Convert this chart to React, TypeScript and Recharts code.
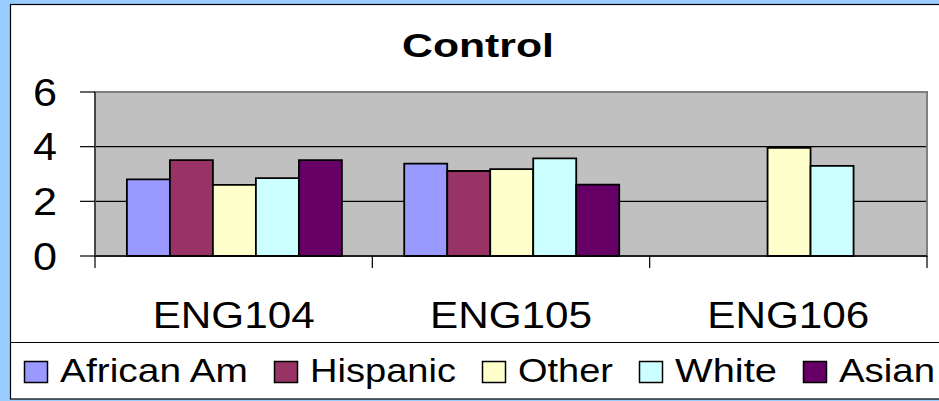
import React from 'react';
import { BarChart, Bar, XAxis, YAxis, CartesianGrid, Legend, ReferenceArea } from 'recharts';

// Mean scores per course, by group
const courses = ['ENG104', 'ENG105', 'ENG106'];
const africanAm = [2.8, 3.38, null];
const hispanic = [3.51, 3.11, null];
const other = [2.6, 3.18, 3.96];
const white = [2.85, 3.57, 3.3];
const asian = [3.51, 2.61, null];
const yTicks = [0, 2, 4, 6];
const seriesNames = ['African Am', 'Hispanic', 'Other', 'White', 'Asian'];
const seriesColors = ['#9999ff', '#993366', '#ffffcc', '#ccffff', '#660066'];
const chartTitle = 'Control';

const seriesValues = [africanAm, hispanic, other, white, asian];

const data = courses.map((course, i) => {
  const row: Record<string, string | number | null> = { course };
  seriesNames.forEach((name, s) => {
    row[name] = seriesValues[s][i];
  });
  return row;
});

const W = 939;
const H = 401;
const FONT = '"Liberation Sans", Arial, sans-serif';

// Text widths used to stretch labels horizontally
const legendTextWidth: Record<string, number> = {
  'African Am': 188,
  Hispanic: 146,
  Other: 95,
  White: 102,
  Asian: 96,
};

const XTick = (props: any) => {
  const { x, y, payload, width, visibleTicksCount, index } = props;
  const band = width / visibleTicksCount;
  const left = x - band / 2;
  const isLast = index === visibleTicksCount - 1;
  return (
    <g>
      <line x1={left} y1={y} x2={left} y2={y + 12} stroke="#000" strokeWidth={1.2} />
      {isLast && (
        <line x1={left + band} y1={y} x2={left + band} y2={y + 12} stroke="#000" strokeWidth={1.2} />
      )}
      <text
        x={x}
        y={y + 72}
        textAnchor="middle"
        fontFamily={FONT}
        fontSize={37}
        fill="#000"
        textLength={162}
        lengthAdjust="spacingAndGlyphs"
      >
        {payload.value}
      </text>
    </g>
  );
};

const YTick = (props: any) => {
  const { x, y, payload } = props;
  return (
    <text
      x={x}
      y={y + 13.5}
      textAnchor="end"
      fontFamily={FONT}
      fontSize={38}
      fill="#000"
      textLength={24}
      lengthAdjust="spacingAndGlyphs"
    >
      {payload.value}
    </text>
  );
};

const LegendContent = (props: any) => {
  const payload = [...(props.payload || [])].sort(
    (a: any, b: any) => seriesNames.indexOf(a.value) - seriesNames.indexOf(b.value)
  );
  let cx = 24;
  return (
    <svg width={W} height={58} style={{ display: 'block' }}>
      <line x1={10} y1={0.5} x2={W} y2={0.5} stroke="#000" strokeWidth={1} />
      {payload.map((item: any) => {
        const tw = legendTextWidth[item.value] ?? 100;
        const sx = cx;
        cx = sx + 36 + tw + 26;
        return (
          <g key={item.value}>
            <rect x={sx + 0.5} y={19.5} width={23} height={21} fill={item.color} stroke="#000" strokeWidth={1.5} />
            <text
              x={sx + 36}
              y={39.7}
              fontFamily={FONT}
              fontSize={33}
              fill="#000"
              textLength={tw}
              lengthAdjust="spacingAndGlyphs"
            >
              {item.value}
            </text>
          </g>
        );
      })}
    </svg>
  );
};

export default function App() {
  return (
    <div
      style={{
        position: 'absolute',
        left: 0,
        top: 0,
        width: W,
        height: H,
        background: '#99ccff',
        overflow: 'hidden',
      }}
    >
      <svg width={W} height={H} style={{ position: 'absolute', left: 0, top: 0 }}>
        <rect x={10.5} y={4.5} width={940} height={394.5} fill="#fff" stroke="#000" strokeWidth={1.2} />
        <text
          x={402}
          y={57}
          fontFamily={FONT}
          fontWeight="bold"
          fontSize={34}
          fill="#000"
          textLength={152}
          lengthAdjust="spacingAndGlyphs"
        >
          {chartTitle}
        </text>
      </svg>
      <div style={{ position: 'absolute', left: 0, top: 0 }}>
        <BarChart
          width={W}
          height={H}
          data={data}
          margin={{ top: 92, right: 12, bottom: 115, left: 0 }}
          barCategoryGap="11.5%"
          barGap={0}
        >
          <CartesianGrid
            vertical={false}
            horizontalValues={[2, 4]}
            stroke="#000"
            strokeWidth={1.2}
            fill="#c0c0c0"
            fillOpacity={1}
          />
          <ReferenceArea y1={0} y2={6} fill="none" stroke="#808080" strokeWidth={2} ifOverflow="visible" />
          <XAxis
            dataKey="course"
            height={30}
            tickLine={false}
            tickSize={0}
            tickMargin={0}
            axisLine={{ stroke: '#000', strokeWidth: 1.5 }}
            tick={<XTick />}
            interval={0}
          />
          <YAxis
            width={95}
            domain={[0, 6]}
            ticks={yTicks}
            tickSize={15}
            tickMargin={23}
            tickLine={{ stroke: '#000', strokeWidth: 1.2 }}
            axisLine={{ stroke: '#333', strokeWidth: 1.5 }}
            tick={<YTick />}
          />
          {seriesNames.map((name, s) => (
            <Bar
              key={name}
              dataKey={name}
              name={name}
              fill={seriesColors[s]}
              stroke="#000"
              strokeWidth={1.8}
              isAnimationActive={false}
            />
          ))}
          <Legend
            verticalAlign="middle"
            layout="horizontal"
            itemSorter={null as any}
            content={<LegendContent />}
            wrapperStyle={{ left: 0, top: 342, width: W, height: 58 }}
          />
        </BarChart>
      </div>
    </div>
  );
}
